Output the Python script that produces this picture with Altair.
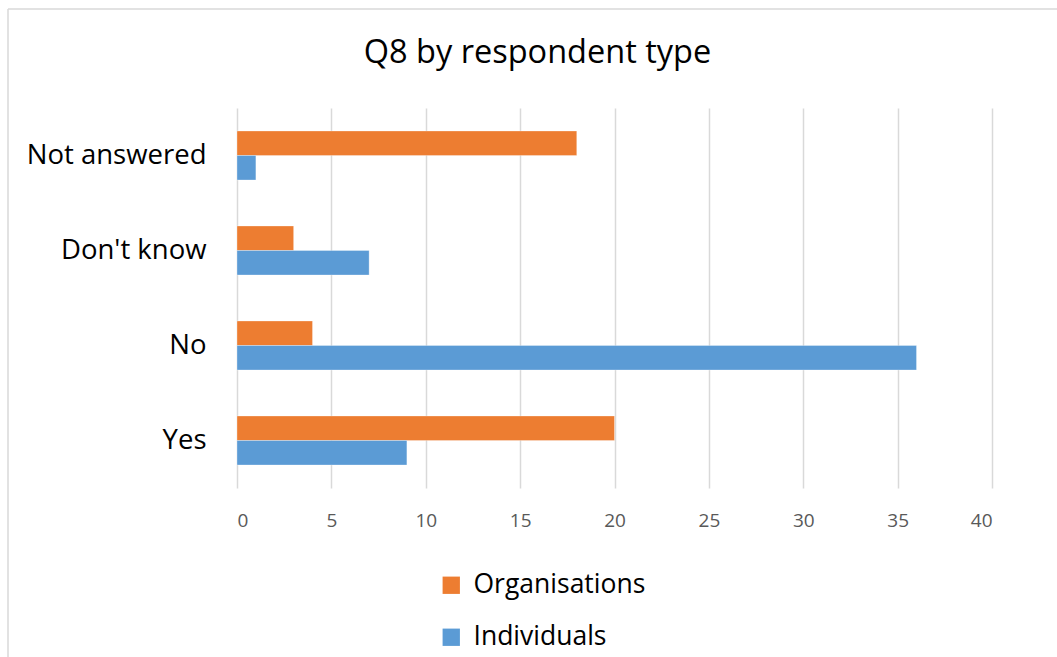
import altair as alt
import pandas as pd

categories = ["Not answered", "Don't know", "No", "Yes"]
organisations = [18, 3, 4, 20]
individuals = [1, 7, 36, 9]
series = ["Organisations", "Individuals"]
colors = ["#ED7D31", "#5B9BD5"]
x_ticks = [0, 5, 10, 15, 20, 25, 30, 35, 40]
title_text = "Q8 by respondent type"

rows = []
for cat, o, i in zip(categories, organisations, individuals):
    rows.append({"answer": cat, "type": "Organisations", "count": o})
    rows.append({"answer": cat, "type": "Individuals", "count": i})
df = pd.DataFrame(rows)

FONT = "Open Sans"
W, H = 755, 380

bars = alt.Chart(df).mark_bar(stroke="white", strokeWidth=0.5, strokeOpacity=0.6).encode(
    x=alt.X(
        "count:Q",
        scale=alt.Scale(domain=[0, 40], nice=False),
        axis=alt.Axis(
            values=x_ticks, title=None, domain=False, ticks=False,
            labelFontSize=19, labelColor="#595959", labelFont=FONT, labelPadding=23,
            gridColor="#d9d9d9", gridWidth=1.5,
        ),
    ),
    y=alt.Y(
        "answer:N",
        sort=categories,
        scale=alt.Scale(paddingInner=0.484, paddingOuter=0.242),
        axis=alt.Axis(
            title=None, domain=False, ticks=False, grid=False,
            labelFontSize=27.5, labelColor="#000000", labelFont=FONT, labelPadding=31,
            labelLimit=400,
        ),
    ),
    yOffset=alt.YOffset("type:N", sort=series),
    color=alt.Color(
        "type:N",
        scale=alt.Scale(domain=series, range=colors),
        sort=series,
        legend=alt.Legend(
            title=None, orient="none", legendX=201, legendY=464,
            symbolType="square", symbolSize=300, symbolStrokeWidth=0,
            labelFontSize=26.5, labelFont=FONT, labelColor="#000000",
            rowPadding=25, labelOffset=9, labelLimit=400,
        ),
    ),
)

# outer chart frame, drawn as two edges (the others fall outside the page)
edges = pd.DataFrame({
    "x1": [-229, -229], "x2": [840, -229],
    "y1": [-99, -99], "y2": [-99, 560],
})
frame = alt.Chart(edges).mark_rule(color="#d9d9d9", strokeWidth=1.5).encode(
    x=alt.X("x1:Q", scale=None), x2="x2:Q",
    y=alt.Y("y1:Q", scale=None), y2="y2:Q",
)

title = alt.Chart(pd.DataFrame({"t": [title_text]})).mark_text(
    font=FONT, fontSize=32.5, color="#000000", align="center", baseline="alphabetic"
).encode(
    text="t:N", x=alt.value(300.5), y=alt.value(-45)
)

chart = (
    alt.layer(frame, bars, title)
    .resolve_scale(x="independent", y="independent")
    .properties(
        width=W,
        height=H,
        background="white",
        autosize=alt.AutoSizeParams(type="none"),
        padding={"left": 237, "top": 108, "right": 65, "bottom": 169},
    )
    .configure_view(strokeWidth=0)
)

chart.save("out.html", embed_options={"renderer": "svg", "actions": False})
